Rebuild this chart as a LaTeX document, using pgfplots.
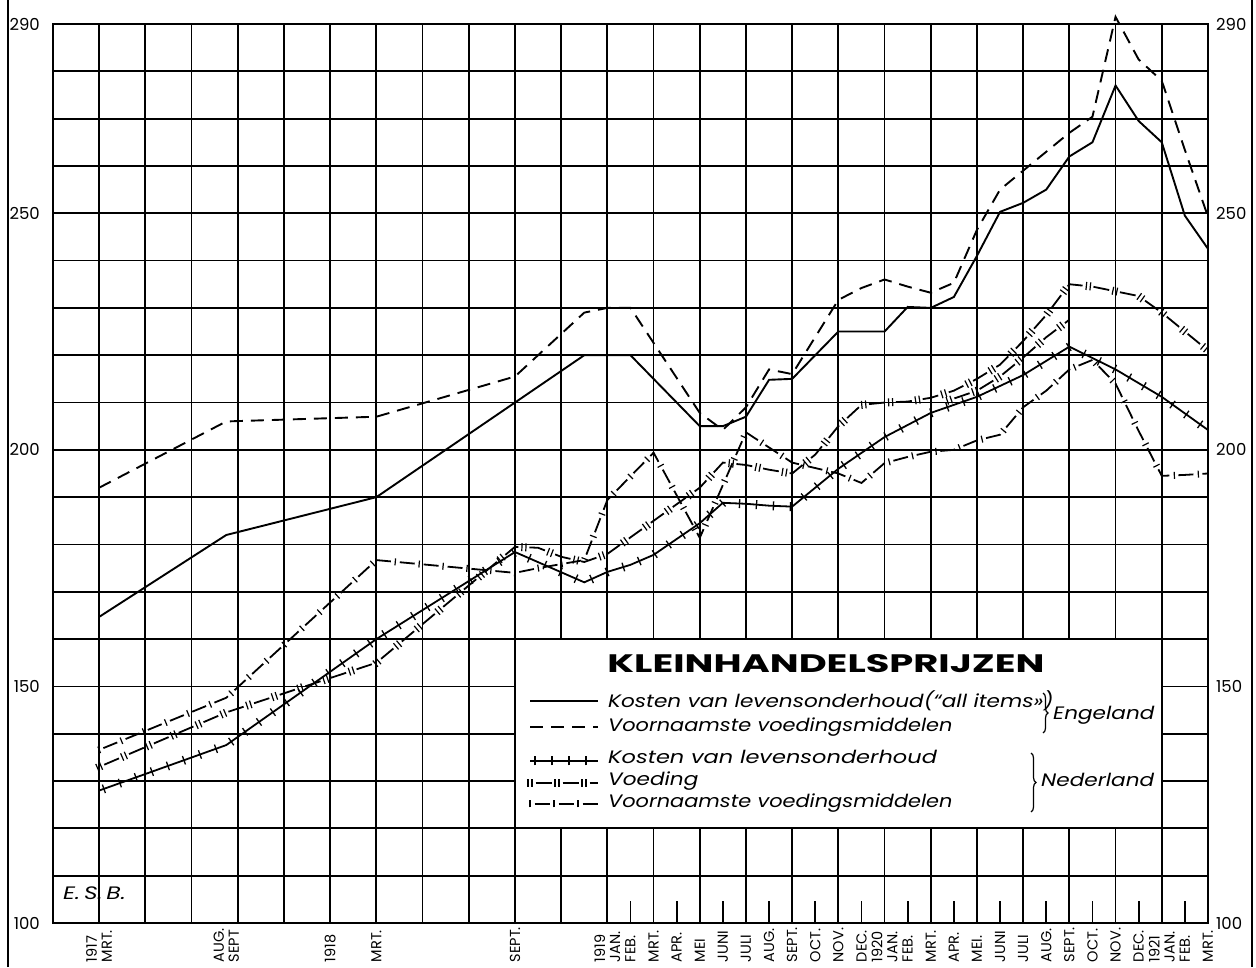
\documentclass[border=0pt]{standalone}
\usepackage{fontspec}
\setmainfont{Poppins}
\usepackage{pgfplots}
\pgfplotsset{compat=1.18}
\usetikzlibrary{decorations.markings,decorations.pathreplacing}

\tikzset{
 engall/.style={line width=1.9pt, black},
 engfood/.style={line width=1.9pt, black, dash pattern=on 13pt off 8pt},
 nlkost/.style={line width=1.8pt, black, postaction={decorate, decoration={markings, mark=between positions 5pt and 1 step 17pt with {\draw[line width=1.3pt, solid] (0pt,-4.5pt) -- (0pt,4.5pt);}}}},
 nlvoed/.style={line width=1.8pt, black, dash pattern=on 16pt off 11pt, dash phase=21.5pt, postaction={decorate, decoration={markings, mark=between positions 0pt and 1 step 27pt with {\draw[line width=1.2pt, solid] (-2pt,-4pt)--(-2pt,4pt) (2pt,-4pt)--(2pt,4pt);}}}},
 nlvoorn/.style={line width=1.8pt, black, dash pattern=on 15pt off 9pt, dash phase=19.5pt, postaction={decorate, decoration={markings, mark=between positions 0pt and 1 step 24pt with {\draw[line width=1.2pt, solid] (0pt,-3.5pt)--(0pt,3.5pt);}}}},
}
\newcommand\legfont{\fontsize{18}{20}\selectfont\itshape}

\begin{document}
\begin{tikzpicture}
\useasboundingbox (0pt,0pt) rectangle (1256pt,967pt);
\begin{axis}[
 at={(53pt,44pt)}, anchor=south west, scale only axis, width=1155pt, height=899pt,
 xmin=-2, xmax=48, ymin=100, ymax=290, clip=false,
 xtick={-2,0,...,48}, xticklabels={},
 minor xtick={23,25,...,47},
 ytick={100,110,...,290},
 yticklabels={100,,,,,150,,,,,200,,,,,250,,,,290},
 xmajorgrids, ymajorgrids,
 grid style={line width=1.8pt, black},
 axis line style={line width=1.9pt},
 major tick length=0pt, minor tick length=22pt,
 tick align=inside, xtick pos=bottom, ytick pos=left,
 minor tick style={line width=1.7pt, black},
 yticklabel style={font=\fontsize{16.5}{16.5}\selectfont, anchor=east, inner sep=0pt, xshift=-13pt},
 xticklabel style={yshift=-1pt, rotate=90, anchor=east, text width=38pt, align=left, inner sep=0pt, font=\fontsize{14.5}{15}\selectfont},
 extra x ticks={0,5.5,10,12,18,22,23,24,25,26,27,28,29,30,31,32,33,34,35,36,37,38,39,40,41,42,43,44,45,46,47,48},
 extra x tick labels={1917\\MRT.,AUG.\\SEPT,1918,MRT.,SEPT.,1919\\JAN.,FEB.,MRT.,APR.,MEI,JUNI,JULI,AUG.,SEPT.,OCT.,NOV.,DEC.,1920\\JAN.,FEB.,MRT.,APR.,MEI.,JUNI,JULI,AUG.,SEPT.,OCT.,NOV.,DEC.,1921\\JAN.,FEB.,MRT.},
 extra x tick style={grid=none, major tick length=0pt},
]
% Engeland: kosten van levensonderhoud (all items)
\addplot[engall] coordinates {(0,164.7) (5.5,182) (12,190) (21,220) (23,220) (26,205) (27,205) (28,207) (29,214.8) (30,215) (32,225) (34,225) (35,230.2) (36,230) (37,232.3) (38,241) (39,250.3) (40,252.2) (41,255) (42,262) (43,265) (44,277) (45,269.5) (46,265) (47,249.5) (48,242.5)};
% Engeland: voornaamste voedingsmiddelen
\addplot[engfood] coordinates {(0,192) (5.5,206) (12,207) (18,215.5) (21,229) (22,230) (23,230) (26,207.8) (27,204.2) (28,209) (29,217) (30,216) (32,231.7) (33,234.2) (34,236) (35,234.5) (36,233.2) (37,235.3) (38,246.5) (39,255) (40,259) (41,263) (42,267) (43,270.4) (44,291.5) (45,282.5) (46,278) (47,263.4) (48,249.3)};
% Nederland: kosten van levensonderhoud
\addplot[nlkost] coordinates {(0,128) (5.5,137.6) (12,160) (18,178.4) (21,172) (22,174.2) (23,175.7) (24,177.8) (26,184.5) (27,188.8) (28,188.6) (29,188.2) (30,188) (32,196) (34,202.7) (36,207.8) (38,211.2) (40,215.8) (42,221.8) (44,217) (46,211.2) (48,204.2)};
% Nederland: voeding
\addplot[nlvoed] coordinates {(0,133) (5.5,144.5) (12,155) (18,179.5) (19,179.3) (20,177.4) (21,176.3) (22,178) (26,192) (27,197.3) (28,196.8) (29,195.8) (30,195) (31,199) (32,205) (33,209.5) (34,210) (35,210.2) (36,211) (37,212.5) (38,215) (39,218) (40,223) (41,228.5) (42,235) (43,234.5) (44,233.5) (45,232.5) (46,229) (47,225) (48,221)};
% Nederland: voeding, second branch (1920)
\addplot[nlvoed] coordinates {(36.8,210.5) (38,212.5) (39,215.5) (40,219.5) (41,223.8) (42,227.5)};
% Nederland: voornaamste voedingsmiddelen
\addplot[nlvoorn] coordinates {(0,136.6) (5.5,147.6) (12,176.7) (18,174) (19,175) (21,176.7) (22,189.4) (24,199.4) (26,181.4) (28,203.7) (30,197.3) (32,195) (33,193) (34,197.2) (35,198.5) (36,199.6) (37,200) (38,202) (39,203.2) (40,209) (41,212.5) (42,217) (43,219) (44,214) (45,204) (46,194.5) (47,194.7) (48,195)};
\draw[line width=1.8pt, fill=white] (axis cs:18,120) rectangle (axis cs:46,160);
\end{axis}
\begin{axis}[
 at={(53pt,44pt)}, anchor=south west, scale only axis, width=1155pt, height=899pt,
 xmin=-2, xmax=48, ymin=100, ymax=290,
 hide x axis, axis y line*=right, y axis line style={draw=none},
 ytick={100,150,200,250,290}, yticklabels={100,150,200,250,290},
 major tick length=0pt,
 yticklabel style={font=\fontsize{16.5}{16.5}\selectfont, anchor=west, inner sep=0pt, xshift=8pt},
]
\end{axis}
% legend
\node[inner sep=0pt] at (826pt,303.5pt) {\resizebox{437pt}{18pt}{\bfseries KLEINHANDELSPRIJZEN}};
\draw[engall] (530pt,266pt) -- (598pt,266pt);
\draw[engfood] (530pt,240pt) -- (598pt,240pt);
\draw[nlkost] (530pt,206pt) -- (598pt,206pt);
\draw[nlvoed] (530pt,184pt) -- (598pt,184pt);
\draw[nlvoorn] (530pt,163pt) -- (598pt,163pt);
\node[anchor=base west, inner sep=0pt] at (608pt,259pt) {\legfont\scalebox{1.2}[1]{Kosten van levensonderhoud(“all items»)}};
\node[anchor=base west, inner sep=0pt] at (608pt,235pt) {\legfont\scalebox{1.16}[1]{Voornaamste voedingsmiddelen}};
\node[anchor=base west, inner sep=0pt] at (608pt,203pt) {\legfont\scalebox{1.25}[1]{Kosten van levensonderhoud}};
\node[anchor=base west, inner sep=0pt] at (608pt,181pt) {\legfont\scalebox{1.2}[1]{Voeding}};
\node[anchor=base west, inner sep=0pt] at (608pt,159pt) {\legfont\scalebox{1.16}[1]{Voornaamste voedingsmiddelen}};
\draw[line width=1.2pt, decorate, decoration={brace, amplitude=5pt}] (1043pt,274pt) -- (1043pt,234pt);
\draw[line width=1.2pt, decorate, decoration={brace, amplitude=5pt}] (1031pt,214pt) -- (1031pt,155pt);
\node[anchor=base west, inner sep=0pt] at (1053pt,247pt) {\legfont\scalebox{1.2}[1]{Engeland}};
\node[anchor=base west, inner sep=0pt] at (1041pt,180pt) {\legfont\scalebox{1.2}[1]{Nederland}};
\node[anchor=base west, inner sep=0pt] at (63pt,67pt) {\fontsize{18}{18}\selectfont\itshape\scalebox{1.3}[1]{E.\hspace{3pt}S.\hspace{3pt}B.}};
% scan border lines
\draw[line width=1.6pt] (8pt,0pt) -- (8pt,967pt);
\draw[line width=1.6pt] (1252pt,0pt) -- (1252pt,967pt);
\end{tikzpicture}
\end{document}
